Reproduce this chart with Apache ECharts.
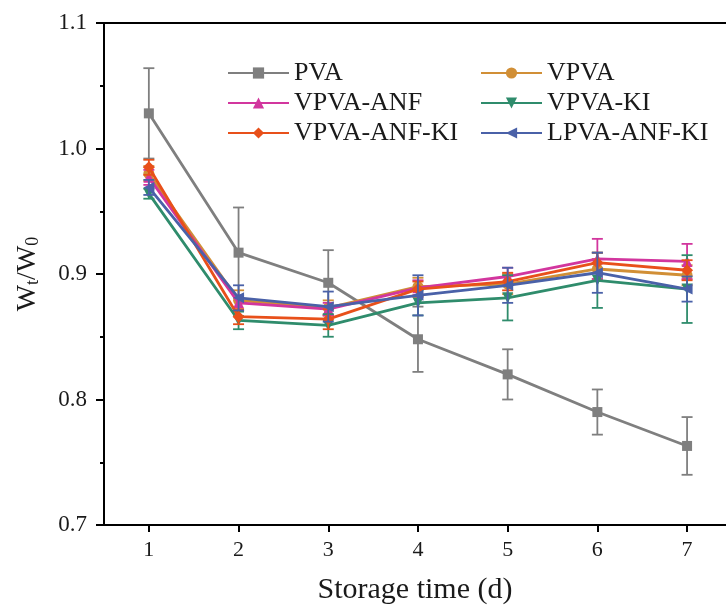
<!DOCTYPE html>
<html><head><meta charset="utf-8">
<script src="https://cdn.jsdelivr.net/npm/echarts@6/dist/echarts.min.js"></script>
<style>html,body{margin:0;padding:0;background:#fff}#c{width:726px;height:610px}</style>
</head><body><div id="c"></div>
<script>
const days = [1, 2, 3, 4, 5, 6, 7];
const yTicks = [0.7, 0.8, 0.9, 1.0, 1.1];
const names = ['PVA','VPVA','VPVA-ANF','VPVA-KI','VPVA-ANF-KI','LPVA-ANF-KI'];
const pva      = [1.028, 0.917, 0.893, 0.848, 0.820, 0.790, 0.763];
const pvaErr   = [0.036, 0.036, 0.026, 0.026, 0.020, 0.018, 0.023];
const vpva     = [0.980, 0.879, 0.873, 0.890, 0.892, 0.904, 0.899];
const vpvaErr  = [0.006, 0.008, 0.006, 0.007, 0.008, 0.008, 0.008];
const anf      = [0.977, 0.877, 0.872, 0.889, 0.898, 0.912, 0.910];
const anfErr   = [0.006, 0.006, 0.005, 0.006, 0.007, 0.016, 0.014];
const ki       = [0.964, 0.863, 0.859, 0.877, 0.881, 0.895, 0.888];
const kiErr    = [0.004, 0.007, 0.009, 0.010, 0.018, 0.022, 0.027];
const anfKi    = [0.985, 0.866, 0.864, 0.888, 0.894, 0.909, 0.903];
const anfKiErr = [0.006, 0.006, 0.008, 0.006, 0.007, 0.008, 0.008];
const lpva     = [0.969, 0.881, 0.874, 0.883, 0.891, 0.901, 0.888];
const lpvaErr  = [0.006, 0.010, 0.012, 0.016, 0.014, 0.016, 0.010];

const values = [pva, vpva, anf, ki, anfKi, lpva];
const errs = [pvaErr, vpvaErr, anfErr, kiErr, anfKiErr, lpvaErr];
const colors = ['#7f7f7f','#d18f36','#d2369e','#2f8c6c','#e8501a','#4a61a8'];
const symbols = ['rect','circle','triangle','triangle','diamond','triangle'];
const rotates = [0,0,0,180,0,90];
const sizes = [10,11,11,11,12,11];
const FONT = '"Liberation Serif","Times New Roman",serif';
const TXT = '#1a1a1a';

const chart = echarts.init(document.getElementById('c'), null, {renderer:'canvas'});
const series = [];
values.forEach((vals, i) => {
  series.push({
    type:'custom', name: names[i] + ' err', silent:true, z: 2 + i*2,
    data: vals.map((v, k) => [days[k], v - errs[i][k], v + errs[i][k]]),
    renderItem: (params, api) => {
      const x = api.value(0);
      const a = api.coord([x, api.value(2)]);
      const b = api.coord([x, api.value(1)]);
      const w = 5.5;
      const st = {stroke: colors[i], lineWidth: 1.8};
      return {type:'group', children:[
        {type:'line', shape:{x1:a[0],y1:a[1],x2:b[0],y2:b[1]}, style:st},
        {type:'line', shape:{x1:a[0]-w,y1:a[1],x2:a[0]+w,y2:a[1]}, style:st},
        {type:'line', shape:{x1:b[0]-w,y1:b[1],x2:b[0]+w,y2:b[1]}, style:st}
      ]};
    }
  });
  series.push({
    type:'line', name: names[i], data: vals.map((v, k) => [days[k], v]), z: 3 + i*2,
    symbol: symbols[i], symbolSize: sizes[i], symbolRotate: rotates[i],
    showAllSymbol: true,
    lineStyle:{color: colors[i], width: 2.8},
    itemStyle:{color: colors[i], borderWidth:0},
    emphasis:{disabled:true}
  });
});

const legendCommon = {
  orient:'vertical', itemWidth:61, itemHeight:14, itemGap:4, padding:0,
  textStyle:{fontFamily:FONT, fontSize:26, color:TXT},
  selectedMode:false
};

const xMin = 0.5, xMax = 7.434;
chart.setOption({
  animation:false,
  backgroundColor:'#fff',
  grid:{left:104, top:23, right:0, bottom:79},
  legend:[
    Object.assign({left:227, top:60, data:[names[0], names[2], names[4]]}, legendCommon),
    Object.assign({left:480, top:60, data:[names[1], names[3], names[5]]}, legendCommon)
  ],
  xAxis:[{
    type:'value', min:xMin, max:xMax,
    axisLine:{lineStyle:{color:'#000', width:2}},
    axisTick:{length:7, customValues: days, lineStyle:{color:'#000', width:2}},
    axisLabel:{fontFamily:FONT, fontSize:22, color:TXT, margin:14, customValues: days},
    splitLine:{show:false},
    name:'Storage time (d)', nameLocation:'middle', nameGap:50,
    nameTextStyle:{fontFamily:FONT, fontSize:30, color:TXT}
  },{
    type:'value', position:'top', min:xMin, max:xMax,
    axisLine:{show:true, onZero:false, lineStyle:{color:'#000', width:2}},
    axisTick:{show:false}, axisLabel:{show:false}, splitLine:{show:false}
  }],
  yAxis:{
    type:'value', min: yTicks[0], max: yTicks[yTicks.length-1], interval:0.1,
    axisLine:{show:true, lineStyle:{color:'#000', width:2}},
    axisTick:{show:true, length:8, lineStyle:{color:'#000', width:2}},
    minorTick:{show:true, splitNumber:2, length:4, lineStyle:{color:'#000', width:2}},
    axisLabel:{fontFamily:FONT, fontSize:23, color:TXT, margin:17, formatter: v => v.toFixed(1)},
    splitLine:{show:false},
    name:'{a|W}{s|t}{a|/W}{s|0}', nameLocation:'middle', nameGap:62, nameRotate:90,
    nameTextStyle:{fontFamily:FONT, fontSize:28, color:TXT,
      rich:{a:{fontFamily:FONT, fontSize:28, color:TXT},
            s:{fontFamily:FONT, fontSize:18, color:TXT, verticalAlign:'bottom', padding:[11,0,0,0]}}}
  },
  series: series
});
</script></body></html>
